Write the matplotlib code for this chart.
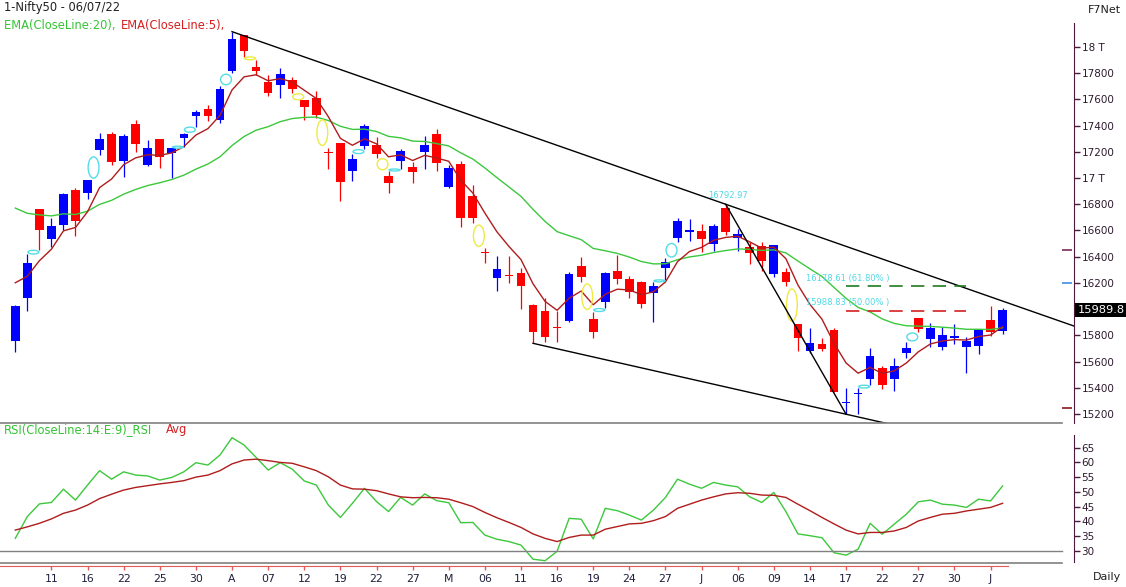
import numpy as np
import matplotlib.pyplot as plt
from matplotlib.patches import Ellipse

# ---- values: Nifty50 daily, 08 Mar - 06 Jul 2022 ----
opens = [15759, 16087, 16764, 16537, 16644, 16909, 16888, 17214, 17336, 17132,
         17412, 17102, 17296, 17194, 17308, 17474, 17527, 17445, 17819, 18092,
         17845, 17735, 17710, 17748, 17593, 17609, 17195, 17270, 17056, 17247,
         17252, 17016, 17132, 17082, 17201, 17336, 16930, 17107, 16863, 16430,
         16240, 16259, 16273, 16032, 15986, 15858, 15912, 16329, 15925, 16057,
         16293, 16230, 16205, 16121, 16312, 16540, 16592, 16598, 16495, 16774,
         16540, 16476, 16482, 16268, 16286, 15884, 15683, 15732, 15841, 15285,
         15351, 15465, 15553, 15465, 15668, 15930, 15770, 15713, 15782, 15713,
         15721, 15917, 15833]
highs = [16032, 16418, 16764, 16693, 16884, 16922, 16985, 17344, 17349, 17336,
         17443, 17290, 17296, 17232, 17346, 17517, 17557, 17705, 18117, 18092,
         17901, 17786, 17837, 17773, 17593, 17664, 17232, 17270, 17184, 17410,
         17316, 17056, 17219, 17120, 17321, 17372, 17100, 17132, 16947, 16464,
         16405, 16405, 16312, 16040, 16083, 15986, 16281, 16395, 15980, 16281,
         16413, 16255, 16218, 16209, 16388, 16693, 16688, 16647, 16647, 16800,
         16612, 16515, 16515, 16489, 16316, 15886, 15858, 15778, 15858, 15396,
         15396, 15706, 15565, 15629, 15752, 15930, 15892, 15861, 15887, 15790,
         15846, 16024, 16006]
lows = [15675, 15988, 16451, 16476, 16604, 16560, 16843, 17176, 17100, 17010,
        17201, 17094, 17079, 17003, 17239, 17392, 17438, 17420, 17799, 17926,
        17786, 17628, 17609, 17647, 17443, 17461, 17069, 16827, 16978, 17219,
        17155, 16888, 17067, 16965, 17069, 17056, 16922, 16629, 16655, 16350,
        16141, 16202, 15999, 15739, 15747, 15747, 15904, 16209, 15778, 16006,
        16189, 16083, 16011, 15904, 16222, 16510, 16522, 16438, 16443, 16566,
        16446, 16344, 16293, 16248, 16176, 15683, 15663, 15683, 15370, 15198,
        15198, 15421, 15391, 15375, 15625, 15823, 15713, 15688, 15732, 15515,
        15658, 15797, 15808]
closes = [16024, 16352, 16606, 16634, 16876, 16675, 16983, 17296, 17125, 17321,
          17258, 17227, 17163, 17229, 17336, 17504, 17476, 17680, 18061, 17972,
          17819, 17651, 17792, 17682, 17545, 17481, 17189, 16972, 17145, 17397,
          17186, 16965, 17206, 17049, 17252, 17113, 17079, 16693, 16693, 16426,
          16304, 16255, 16179, 15823, 15790, 15854, 16268, 16248, 15823, 16273,
          16230, 16133, 16037, 16176, 16357, 16672, 16596, 16533, 16634, 16591,
          16573, 16426, 16370, 16489, 16209, 15782, 15739, 15696, 15370, 15289,
          15355, 15642, 15421, 15566, 15706, 15846, 15854, 15803, 15786, 15757,
          15846, 15823, 15990]
last_price = '15989.8'

ema20 = [16771, 16731, 16719, 16711, 16727, 16722, 16747, 16799, 16830, 16877,
         16913, 16943, 16964, 16989, 17022, 17068, 17107, 17162, 17248, 17317,
         17365, 17392, 17430, 17454, 17463, 17465, 17439, 17395, 17371, 17373,
         17355, 17318, 17307, 17282, 17279, 17263, 17245, 17192, 17145, 17077,
         17003, 16932, 16860, 16761, 16669, 16591, 16560, 16530, 16463, 16445,
         16425, 16397, 16363, 16345, 16346, 16377, 16398, 16411, 16432, 16447,
         16459, 16456, 16448, 16452, 16429, 16367, 16307, 16249, 16165, 16082,
         16013, 15978, 15925, 15891, 15873, 15870, 15868, 15862, 15855, 15846,
         15846, 15844, 15858]
ema5 = [16201, 16251, 16369, 16457, 16597, 16623, 16743, 16927, 16993, 17102,
        17154, 17178, 17173, 17192, 17240, 17328, 17377, 17478, 17672, 17772,
        17788, 17742, 17759, 17733, 17670, 17607, 17468, 17303, 17250, 17299,
        17261, 17162, 17177, 17134, 17173, 17153, 17128, 16983, 16886, 16733,
        16590, 16478, 16378, 16193, 16059, 15991, 16083, 16138, 16033, 16113,
        16152, 16146, 16110, 16132, 16207, 16362, 16440, 16471, 16525, 16547,
        16556, 16513, 16465, 16473, 16385, 16184, 16036, 15923, 15739, 15589,
        15511, 15555, 15510, 15529, 15588, 15674, 15734, 15757, 15767, 15764,
        15791, 15802, 15866]

rsi = [34.2, 41.6, 45.9, 46.4, 50.9, 47.2, 52.3, 57.2, 54.3, 56.8,
       55.7, 55.4, 54.0, 54.9, 56.8, 59.9, 59.1, 62.5, 68.4, 65.9,
       61.7, 57.4, 59.9, 57.7, 53.7, 52.3, 45.5, 41.3, 46.1, 51.2,
       46.7, 43.3, 48.1, 45.5, 49.3, 47.0, 46.3, 39.5, 39.6, 35.3,
       33.9, 33.1, 31.9, 27.1, 26.6, 29.8, 41.0, 40.7, 34.0, 44.4,
       43.6, 42.1, 40.4, 43.8, 48.1, 54.3, 52.6, 51.2, 53.2, 52.3,
       51.7, 48.3, 46.4, 49.8, 43.3, 35.7, 35.1, 34.4, 29.3, 28.5,
       30.5, 39.3, 35.6, 39.0, 42.4, 46.6, 47.2, 45.8, 45.5, 44.7,
       47.5, 46.9, 52.0]
rsi_avg = [37.0, 38.1, 39.3, 40.8, 42.7, 43.8, 45.5, 47.7, 49.2, 50.6,
           51.5, 52.1, 52.7, 53.2, 53.8, 55.0, 55.7, 57.2, 59.5, 60.8,
           61.1, 60.6, 60.0, 59.7, 58.5, 57.2, 55.1, 52.3, 51.0, 50.9,
           50.4, 49.3, 48.3, 48.0, 48.1, 48.0, 47.5, 46.3, 45.0, 43.0,
           41.2, 39.6, 37.9, 35.7, 34.2, 33.1, 34.5, 35.3, 35.3, 37.3,
           38.2, 39.1, 39.3, 40.2, 41.6, 44.4, 45.8, 47.2, 48.3, 49.3,
           49.7, 49.5, 48.9, 48.8, 48.1, 45.8, 43.6, 41.3, 39.1, 37.0,
           35.7, 36.2, 36.2, 36.7, 37.9, 40.1, 41.3, 42.4, 42.7, 43.5,
           44.1, 44.7, 46.1]

# date ticks every 3rd bar
tick_idx = list(range(3, 82, 3))
tick_lab = ['11', '16', '22', '25', '30', 'A', '07', '12', '19', '22', '27', 'M',
            '06', '11', '16', '19', '24', '27', 'J', '06', '09', '14', '17', '22',
            '27', '30', 'J']

# price gaps marked by ellipses (index of the bar before the gap)
gap_up = [1, 6, 13, 14, 17, 28, 31, 48, 53, 54, 70, 74]
gap_down = [19, 23, 25, 30, 38, 47, 64]

# trendlines: (bar, 'high'/'low') -> (bar, 'high'/'low'), extend to right edge?
trendlines = [((18, 'high'), (59, 'high'), True),
              ((43, 'low'), (69, 'low'), True),
              ((59, 'high'), (69, 'low'), False)]

fib_levels = [16178.61, 15988.83]
fib_text = ['16178.61 (61.80% )', '15988.83 (50.00% )']
fib_colors = ['#1f7a1f', '#d42020']
fib_from, fib_to = 69, 79
swing_bar = 59
swing_text = '16792.97'

price_ticks = [15200, 15400, 15600, 15800, 16200, 16400, 16600, 16800,
               17000, 17200, 17400, 17600, 17800, 18000]
rsi_ticks = [30, 35, 40, 45, 50, 55, 60, 65]
axis_marks = [16449, 16202, 15243]
axis_mark_colors = ['#7b2a5a', '#3f8fdf', '#8b1a1a']

## ---------------------------- figure layout ---------------------------- ##
W, H = 1126, 587
fig = plt.figure(figsize=(W / 100, H / 100), dpi=100)
fig.patch.set_facecolor('white')


def px_rect(x0, y0, x1, y1):
    return [x0 / W, 1 - y1 / H, (x1 - x0) / W, (y1 - y0) / H]


ax = fig.add_axes(px_rect(0, 23, 1074, 423))
axr = fig.add_axes(px_rect(0, 423, 1074, 562.7))
xlim = (-1.27, 87.93)
for a in (ax, axr):
    a.set_xlim(*xlim)
    for s in ['left', 'top', 'bottom']:
        a.spines[s].set_visible(False)
    a.spines['right'].set_color('#4a1a40')
    a.yaxis.tick_right()
    a.tick_params(axis='y', direction='out', length=4, width=1, colors='#4a1a40',
                  labelcolor='#2e1a2e', labelsize=7.5, pad=1.5)
ax.set_ylim(15131, 18183)
axr.set_ylim(25.92, 73.39)
ax.tick_params(axis='x', bottom=False, labelbottom=False)

## ------------------------------ candles -------------------------------- ##
x = np.arange(len(closes))
o = np.array(opens)
c = np.array(closes)
cols = np.where(c >= o, '#0000ff', '#ff0000')
ax.vlines(x, lows, highs, colors=cols, lw=0.9, zorder=2)
ax.bar(x, np.maximum(np.abs(c - o), 9), bottom=np.minimum(o, c), width=0.72,
       color=cols, linewidth=0, zorder=2)

ax.plot(x, ema20, color='#3cc83c', lw=1, zorder=3)
ax.plot(x, ema5, color='#b01c1c', lw=1, zorder=3)

# gap ellipses
for i in gap_up:
    y0, y1 = highs[i], lows[i + 1]
    ax.add_patch(Ellipse((i + 0.5, (y0 + y1) / 2), 0.9, max(0.85 * (y1 - y0), 15),
                         fill=False, edgecolor='#55dde6', lw=1, zorder=3))
for i in gap_down:
    y0, y1 = lows[i], highs[i + 1]
    ax.add_patch(Ellipse((i + 0.5, (y0 + y1) / 2), 0.9, max(0.85 * (y0 - y1), 15),
                         fill=False, edgecolor='#eeea44', lw=1, zorder=3))

# trendlines
ext = {'high': highs, 'low': lows}
for (i0, k0), (i1, k1), extend in trendlines:
    p0, p1 = ext[k0][i0], ext[k1][i1]
    xe = xlim[1] if extend else i1
    pe = p0 + (p1 - p0) / (i1 - i0) * (xe - i0)
    ax.plot([i0, xe], [p0, pe], color='black', lw=1, zorder=4)

# fibonacci retracement levels
for lvl, txt, col in zip(fib_levels, fib_text, fib_colors):
    ax.plot([fib_from, fib_to], [lvl, lvl], color=col, lw=1.2, dashes=(8, 5), zorder=4)
    ax.annotate(txt, (65.65, lvl), xytext=(0, 5.5), textcoords='offset points',
                fontsize=6, color='#4fd8e6', va='center', ha='left')
ax.annotate(swing_text, (swing_bar, highs[swing_bar]),
            xytext=(1.5, 6.5), textcoords='offset points', fontsize=6,
            color='#4fd8e6', ha='center', va='center')

# price axis
ax.set_yticks(price_ticks)
ax.set_yticklabels([f'{v // 1000} T' if v % 1000 == 0 else str(v) for v in price_ticks])
ax.hlines(axis_marks, 86.94, 87.77, colors=axis_mark_colors, lw=1.2, clip_on=False)

## -------------------------------- RSI ---------------------------------- ##
axr.plot(x, rsi, color='#3cc83c', lw=1)
axr.plot(x, rsi_avg, color='#b01c1c', lw=1)
gx = 1062 / 1074
axr.axhline(30, xmax=gx, color='#808080', lw=1)
axr.axhline(25.92, xmax=gx, color='#808080', lw=1.2, clip_on=False)
axr.axhline(73.39, xmax=gx, color='#808080', lw=1.2, clip_on=False)
axr.spines['right'].set_bounds(26.2, 69.3)
axr.set_yticks(rsi_ticks)

axr.spines['bottom'].set_visible(True)
axr.spines['bottom'].set_color('#e05a5a')
axr.spines['bottom'].set_position(('outward', 2.5))
axr.spines['bottom'].set_bounds(xlim[0], 82.45)
axr.set_xticks(tick_idx)
axr.set_xticklabels(tick_lab)
axr.tick_params(axis='x', direction='out', length=3, width=1, colors='#e05a5a',
                labelcolor='#1e1e3c', labelsize=7.8, pad=2.5)

## ------------------------------- texts --------------------------------- ##
fig.text(4 / W, 1 - 8 / H, '1-Nifty50 - 06/07/22', fontsize=8.3, color='#202020', va='center')
fig.text(4 / W, 1 - 25 / H, 'EMA(CloseLine:20), ', fontsize=8.3, color='#33c433', va='center')
fig.text(121 / W, 1 - 25 / H, 'EMA(CloseLine:5),', fontsize=8.3, color='#d42020', va='center')
fig.text(4 / W, 1 - 430 / H, 'RSI(CloseLine:14:E:9)_RSI', fontsize=8.3, color='#33c433', va='center')
fig.text(166 / W, 1 - 430 / H, 'Avg', fontsize=8.3, color='#d42020', va='center')
fig.text(1121 / W, 1 - 10 / H, 'F7Net', fontsize=8, color='#202020', va='center', ha='right')
fig.text(1121 / W, 1 - 577 / H, 'Daily', fontsize=8, color='#202020', va='center', ha='right')
fig.text(1077.5 / W, 1 - 310 / H, last_price, fontsize=8.2, color='white', va='center',
         bbox=dict(facecolor='black', edgecolor='none', pad=1.5))

fig.savefig('out.png', dpi=100)
